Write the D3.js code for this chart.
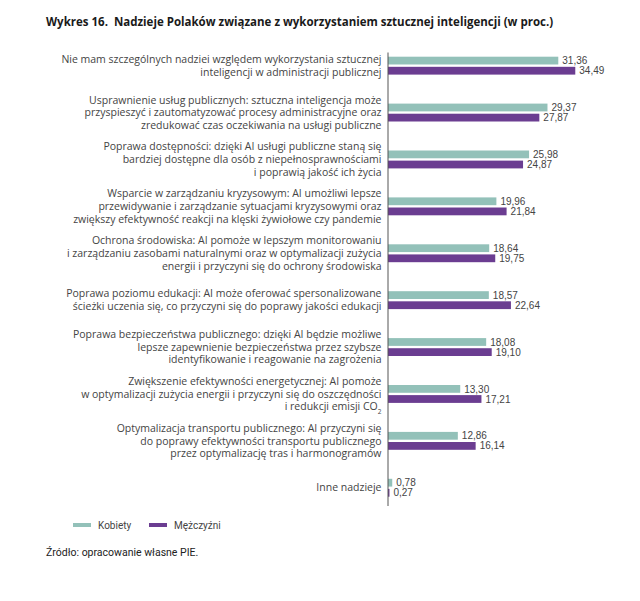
<!DOCTYPE html>
<html>
<head>
<meta charset="utf-8">
<script src="https://cdn.jsdelivr.net/npm/d3@7"></script>
<style>
  body { margin: 0; background: #fff; }
  svg { display: block; }
</style>
</head>
<body>
<div id="chart"></div>
<script>
// data
const categories = [
  "Nie mam szczególnych nadziei względem wykorzystania sztucznej|inteligencji w administracji publicznej",
  "Usprawnienie usług publicznych: sztuczna inteligencja może|przyspieszyć i zautomatyzować procesy administracyjne oraz|zredukować czas oczekiwania na usługi publiczne",
  "Poprawa dostępności: dzięki AI usługi publiczne staną się|bardziej dostępne dla osób z niepełnosprawnościami|i poprawią jakość ich życia",
  "Wsparcie w zarządzaniu kryzysowym: AI umożliwi lepsze|przewidywanie i zarządzanie sytuacjami kryzysowymi oraz|zwiększy efektywność reakcji na klęski żywiołowe czy pandemie",
  "Ochrona środowiska: AI pomoże w lepszym monitorowaniu|i zarządzaniu zasobami naturalnymi oraz w optymalizacji zużycia|energii i przyczyni się do ochrony środowiska",
  "Poprawa poziomu edukacji: AI może oferować spersonalizowane|ścieżki uczenia się, co przyczyni się do poprawy jakości edukacji",
  "Poprawa bezpieczeństwa publicznego: dzięki AI będzie możliwe|lepsze zapewnienie bezpieczeństwa przez szybsze|identyfikowanie i reagowanie na zagrożenia",
  "Zwiększenie efektywności energetycznej: AI pomoże|w optymalizacji zużycia energii i przyczyni się do oszczędności|i redukcji emisji CO_2",
  "Optymalizacja transportu publicznego: AI przyczyni się|do poprawy efektywności transportu publicznego|przez optymalizację tras i harmonogramów",
  "Inne nadzieje"
];
const kobiety = [31.36, 29.37, 25.98, 19.96, 18.64, 18.57, 18.08, 13.30, 12.86, 0.78];
const mezczyzni = [34.49, 27.87, 24.87, 21.84, 19.75, 22.64, 19.10, 17.21, 16.14, 0.27];
const seriesNames = ["Kobiety", "Mężczyźni"];
const colors = ["#93c1b9", "#6b3d91"];

const width = 640, height = 601;
const axisX = 388;

const svg = d3.select("#chart").append("svg")
  .attr("width", width)
  .attr("height", height);

// title
svg.append("text")
  .attr("x", 46)
  .attr("y", 26)
  .attr("font-family", "Open Sans")
  .attr("font-weight", "bold")
  .attr("font-size", 11.5)
  .attr("fill", "#1a1a1a")
  .attr("xml:space", "preserve")
  .text("Wykres 16.  Nadzieje Polaków związane z wykorzystaniem sztucznej inteligencji (w proc.)");

const x = d3.scaleLinear()
  .domain([0, 35])
  .range([axisX, axisX + 35 * 5.43]);

const y0 = d3.scaleBand()
  .domain(d3.range(categories.length))
  .range([52.5, 52.5 + categories.length * 46.9]);

const y1 = d3.scaleBand()
  .domain(seriesNames)
  .range([0, 17.9])
  .paddingInner(0.23);

const rows = categories.map((c, i) => ({
  label: c,
  values: [kobiety[i], mezczyzni[i]]
}));

const groups = svg.selectAll("g.cat")
  .data(rows)
  .enter()
  .append("g")
  .attr("class", "cat")
  .attr("transform", (d, i) => "translate(0," + (y0(i) + 4.2) + ")");

// bars
groups.selectAll("rect")
  .data(d => d.values)
  .enter()
  .append("rect")
  .attr("x", x(0))
  .attr("y", (d, j) => y1(seriesNames[j]))
  .attr("width", d => x(d) - x(0))
  .attr("height", y1.bandwidth())
  .attr("fill", (d, j) => colors[j]);

// value labels
groups.selectAll("text.val")
  .data(d => d.values)
  .enter()
  .append("text")
  .attr("class", "val")
  .attr("x", d => x(d) + 4)
  .attr("y", (d, j) => y1(seriesNames[j]) + y1.bandwidth() / 2)
  .attr("dy", "0.36em")
  .attr("font-family", "Liberation Sans")
  .attr("font-size", 10)
  .attr("fill", "#444")
  .text(d => d.toFixed(2).replace(".", ","));

// category labels
const lineH = 12.7;
groups.each(function(d) {
  const lines = d.label.split("|");
  const mid = 17.9 / 2;
  const txt = d3.select(this).append("text")
    .attr("text-anchor", "end")
    .attr("font-family", "Open Sans")
    .attr("font-size", 10.5)
    .attr("fill", "#444");
  lines.forEach((ln, k) => {
    const yy = mid + (k - (lines.length - 1) / 2) * lineH;
    const t = txt.append("tspan")
      .attr("x", 381.5)
      .attr("y", yy)
      .attr("dy", "0.35em");
    if (ln.indexOf("_") >= 0) {
      const parts = ln.split("_");
      t.text(parts[0]);
      txt.append("tspan")
        .attr("font-size", 6.5)
        .attr("dy", "0.6em")
        .text(parts[1]);
    } else {
      t.text(ln);
    }
  });
});

// axis line
svg.append("line")
  .attr("x1", axisX).attr("x2", axisX)
  .attr("y1", 52.5).attr("y2", 506)
  .attr("stroke", "#555")
  .attr("stroke-width", 1);

// legend
const legend = svg.selectAll("g.leg")
  .data(seriesNames)
  .enter()
  .append("g")
  .attr("class", "leg")
  .attr("transform", (d, i) => "translate(" + [73, 149][i] + ",525)");

legend.append("rect")
  .attr("x", 0).attr("y", -2)
  .attr("width", 18).attr("height", 4)
  .attr("fill", (d, i) => colors[i]);

legend.append("text")
  .attr("x", 25)
  .attr("y", 0)
  .attr("dy", "0.35em")
  .attr("font-family", "Roboto")
  .attr("font-size", 10)
  .attr("fill", "#444")
  .text(d => d);

// source
svg.append("text")
  .attr("x", 46)
  .attr("y", 556)
  .attr("font-family", "Roboto")
  .attr("font-size", 10.5)
  .attr("fill", "#222")
  .text("Źródło: opracowanie własne PIE.");
</script>
</body>
</html>
